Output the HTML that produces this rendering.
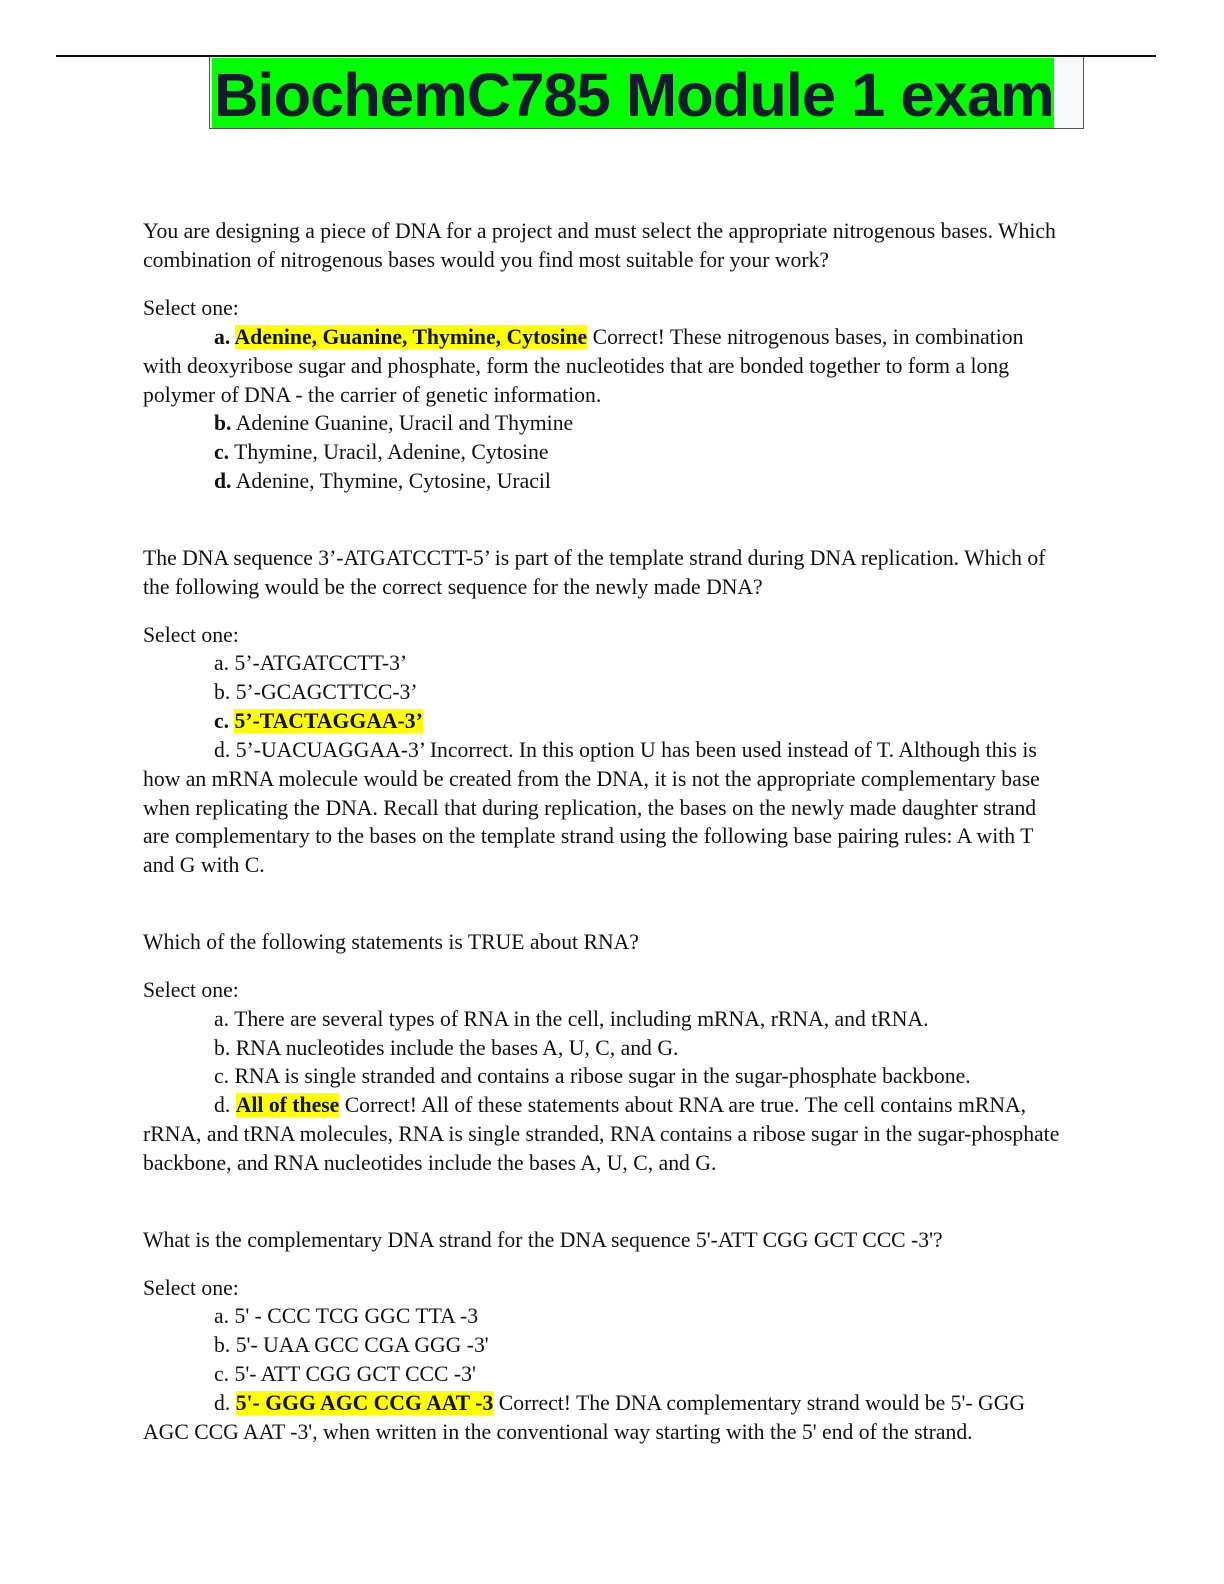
<!DOCTYPE html>
<html><head><meta charset="utf-8"><style>
body{margin:0;background:#fff;width:1224px;height:1584px;position:relative;overflow:hidden}
.l{position:absolute;left:143px;font-family:"Liberation Serif",serif;font-size:21.7px;color:#111;white-space:nowrap;line-height:24px}
.i{left:214px}
.h{background:#ffff00;font-weight:bold}
b{font-weight:bold}
</style></head><body>
<div style="position:absolute;left:56px;top:55px;width:1100px;height:2px;background:#111"></div>
<div style="position:absolute;left:209px;top:57px;width:873px;height:71px;border:1px solid #555;border-top:none;background:#f7f8fa"></div>
<div style="position:absolute;left:212px;top:58px;width:842px;height:70px;background:#00ff00"></div>
<div style="position:absolute;left:214px;top:60px;font-family:'Liberation Sans',sans-serif;font-weight:bold;font-size:61.5px;line-height:72px;color:#161a2e;letter-spacing:-1px;white-space:nowrap">BiochemC785 Module 1 exam</div>

<div class="l" style="top:219px">You are designing a piece of DNA for a project and must select the appropriate nitrogenous bases. Which</div>
<div class="l" style="top:248px">combination of nitrogenous bases would you find most suitable for your work?</div>
<div class="l" style="top:296px">Select one:</div>
<div class="l i" style="top:325px"><b>a. </b><span class="h">Adenine, Guanine, Thymine, Cytosine</span> Correct! These nitrogenous bases, in combination</div>
<div class="l" style="top:354px">with deoxyribose sugar and phosphate, form the nucleotides that are bonded together to form a long</div>
<div class="l" style="top:383px">polymer of DNA - the carrier of genetic information.</div>
<div class="l i" style="top:411px"><b>b.</b> Adenine Guanine, Uracil and Thymine</div>
<div class="l i" style="top:440px"><b>c.</b> Thymine, Uracil, Adenine, Cytosine</div>
<div class="l i" style="top:469px"><b>d.</b> Adenine, Thymine, Cytosine, Uracil</div>

<div class="l" style="top:546px">The DNA sequence 3’-ATGATCCTT-5’ is part of the template strand during DNA replication. Which of</div>
<div class="l" style="top:575px">the following would be the correct sequence for the newly made DNA?</div>
<div class="l" style="top:623px">Select one:</div>
<div class="l i" style="top:651px">a. 5’-ATGATCCTT-3’</div>
<div class="l i" style="top:680px">b. 5’-GCAGCTTCC-3’</div>
<div class="l i" style="top:709px"><b>c. </b><span class="h">5’-TACTAGGAA-3’</span></div>
<div class="l i" style="top:738px">d. 5’-UACUAGGAA-3’ Incorrect. In this option U has been used instead of T. Although this is</div>
<div class="l" style="top:767px">how an mRNA molecule would be created from the DNA, it is not the appropriate complementary base</div>
<div class="l" style="top:796px">when replicating the DNA. Recall that during replication, the bases on the newly made daughter strand</div>
<div class="l" style="top:824px">are complementary to the bases on the template strand using the following base pairing rules: A with T</div>
<div class="l" style="top:853px">and G with C.</div>

<div class="l" style="top:930px">Which of the following statements is TRUE about RNA?</div>
<div class="l" style="top:978px">Select one:</div>
<div class="l i" style="top:1007px">a. There are several types of RNA in the cell, including mRNA, rRNA, and tRNA.</div>
<div class="l i" style="top:1036px">b. RNA nucleotides include the bases A, U, C, and G.</div>
<div class="l i" style="top:1064px">c. RNA is single stranded and contains a ribose sugar in the sugar-phosphate backbone.</div>
<div class="l i" style="top:1093px">d. <span class="h">All of these</span> Correct! All of these statements about RNA are true. The cell contains mRNA,</div>
<div class="l" style="top:1122px">rRNA, and tRNA molecules, RNA is single stranded, RNA contains a ribose sugar in the sugar-phosphate</div>
<div class="l" style="top:1151px">backbone, and RNA nucleotides include the bases A, U, C, and G.</div>

<div class="l" style="top:1228px">What is the complementary DNA strand for the DNA sequence 5'-ATT CGG GCT CCC -3'?</div>
<div class="l" style="top:1276px">Select one:</div>
<div class="l i" style="top:1304px">a. 5' - CCC TCG GGC TTA -3</div>
<div class="l i" style="top:1333px">b. 5'- UAA GCC CGA GGG -3'</div>
<div class="l i" style="top:1362px">c. 5'- ATT CGG GCT CCC -3'</div>
<div class="l i" style="top:1391px">d. <span class="h">5'- GGG AGC CCG AAT -3</span> Correct! The DNA complementary strand would be 5'- GGG</div>
<div class="l" style="top:1420px">AGC CCG AAT -3', when written in the conventional way starting with the 5' end of the strand.</div>
</body></html>
